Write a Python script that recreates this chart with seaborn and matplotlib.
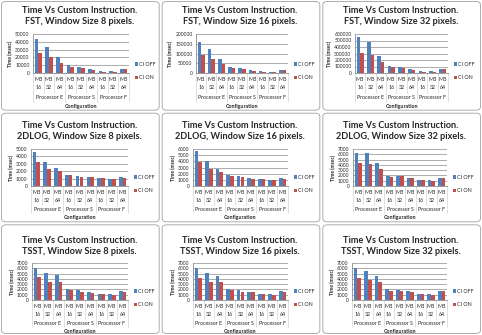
import matplotlib
matplotlib.use("Agg")
from matplotlib import pyplot as plt
from matplotlib.patches import FancyBboxPatch
import numpy as np
import pandas as pd
import seaborn as sns

# ---- data ----
configs = ["E16", "E32", "E64", "S16", "S32", "S64", "F16", "F32", "F64"]
config_labels = ["MB\n16", "MB\n32", "MB\n64"] * 3
processors = ["Processor E", "Processor S", "Processor F"]
series_names = ["CI OFF", "CI ON"]

fst8_off = [44000, 33000, 20000, 10000, 8000, 5000, 2500, 2000, 5000]
fst8_on = [26000, 20000, 13000, 7500, 6500, 4000, 1500, 1500, 4500]
fst16_off = [160000, 122000, 70000, 33000, 27000, 16000, 8000, 6000, 16000]
fst16_on = [92000, 70000, 45000, 26000, 22000, 12000, 5000, 5000, 14000]
fst32_off = [560000, 470000, 260000, 110000, 100000, 60000, 30000, 30000, 65000]
fst32_on = [315000, 275000, 170000, 85000, 80000, 50000, 20000, 20000, 55000]
log8_off = [4600, 3300, 2400, 1550, 1350, 1150, 1100, 900, 1150]
log8_on = [3300, 2350, 2000, 1450, 1250, 1150, 1100, 900, 1100]
log16_off = [5600, 4000, 2800, 1850, 1550, 1250, 1100, 1000, 1250]
log16_on = [3900, 2800, 2250, 1650, 1400, 1200, 1100, 950, 1200]
log32_off = [6300, 6300, 4400, 1950, 1950, 1550, 1150, 1050, 1550]
log32_on = [4400, 4100, 3200, 1750, 1850, 1450, 1050, 950, 1550]
tsst8_off = [6000, 5200, 4700, 2000, 1800, 1600, 1200, 1100, 1700]
tsst8_on = [4300, 3500, 3400, 1800, 1600, 1400, 1100, 950, 1600]
tsst16_off = [6000, 5200, 4600, 2000, 1800, 1600, 1200, 1100, 1700]
tsst16_on = [4200, 3500, 3400, 1800, 1600, 1500, 1100, 950, 1550]
tsst32_off = [6000, 5400, 4600, 2000, 1850, 1700, 1200, 1100, 1700]
tsst32_on = [4200, 3700, 3500, 1700, 1700, 1500, 1100, 950, 1650]

titles = [
    "Time Vs Custom Instruction.\nFST, Window Size 8 pixels.",
    "Time Vs Custom Instruction.\nFST, Window Size 16 pixels.",
    "Time Vs Custom Instruction.\nFST, Window Size 32 pixels.",
    "Time Vs Custom Instruction.\n2DLOG, Window Size 8 pixels.",
    "Time Vs Custom Instruction.\n2DLOG, Window Size 16 pixels.",
    "Time Vs Custom Instruction.\n2DLOG, Window Size 32 pixels.",
    "Time Vs Custom Instruction.\nTSST, Window Size 8 pixels.",
    "Time Vs Custom Instruction.\nTSST, Window Size 16 pixels.",
    "Time Vs Custom Instruction.\nTSST, Window Size 32 pixels.",
]
off_series = [fst8_off, fst16_off, fst32_off, log8_off, log16_off, log32_off,
              tsst8_off, tsst16_off, tsst32_off]
on_series = [fst8_on, fst16_on, fst32_on, log8_on, log16_on, log32_on,
             tsst8_on, tsst16_on, tsst32_on]
y_max = [50000, 200000, 600000, 5000, 6000, 7000, 7000, 7000, 7000]
y_step = [10000, 50000, 100000, 1000, 1000, 1000, 1000, 1000, 1000]

# ---- layout (pixels) ----
W, H = 482, 335
axes_px = [  # left, right, top, bottom
    (33, 129, 34, 73), (196, 288, 34, 73), (355, 448, 34, 73),
    (31, 128, 149, 186), (193, 288, 149, 186), (353, 447, 149, 186),
    (32, 128, 263, 300), (193, 288, 263, 300), (352, 447, 263, 300),
]
title_y = [6, 121, 236]
blue, red = "#4F81BD", "#C0504D"
grid_c = "#8c8c8c"

sns.set_style("white")
plt.rcParams["font.family"] = ["Lato", "DejaVu Sans"]

fig = plt.figure(figsize=(W / 100, H / 100), dpi=100)

# chart-area frames
cell_w, cell_h = W / 3, H / 3
for r in range(3):
    for c in range(3):
        box = FancyBboxPatch(
            ((c * cell_w + 1.5) / W, 1 - (r * cell_h + cell_h - 1.5) / H),
            (cell_w - 3) / W, (cell_h - 3) / H,
            boxstyle="round,pad=0,rounding_size=0.01",
            transform=fig.transFigure, fill=False, ec="#a0a0a0", lw=0.6,
        )
        fig.add_artist(box)

for i in range(9):
    l, rgt, t, b = axes_px[i]
    ax = fig.add_axes([l / W, 1 - b / H, (rgt - l) / W, (b - t) / H])
    df = pd.DataFrame({
        "config": configs * 2,
        "series": [series_names[0]] * 9 + [series_names[1]] * 9,
        "time": off_series[i] + on_series[i],
    })
    sns.barplot(data=df, x="config", y="time", hue="series", order=configs,
                hue_order=series_names, palette=[blue, red], width=0.7,
                saturation=1, linewidth=0, ax=ax)
    ax.set_ylim(0, y_max[i])
    ax.set_yticks(np.arange(0, y_max[i] + 1, y_step[i]))
    ax.ticklabel_format(style="plain", axis="y")
    ax.yaxis.grid(True, color=grid_c, lw=0.5)
    ax.set_axisbelow(True)
    ax.set_xlim(-0.5, 8.5)
    ax.set_xticks(range(9))
    ax.set_xticklabels(config_labels, fontsize=3.8, linespacing=1.75)
    ax.tick_params(axis="x", length=0, pad=3)
    ax.tick_params(axis="y", labelsize=3.6, length=1.5, width=0.5,
                   color=grid_c, pad=1)
    for s in ["top", "right"]:
        ax.spines[s].set_visible(False)
    for s in ["left", "bottom"]:
        ax.spines[s].set_color(grid_c)
        ax.spines[s].set_linewidth(0.6)
    ax.set_xlabel("")
    ax.set_ylabel("Time (msec)", fontsize=3.6, fontweight="bold", labelpad=1.5)

    # multi-level category axis separators
    tr = ax.get_xaxis_transform()
    for k in range(10):
        x = k - 0.5
        depth = -0.74 if k % 3 == 0 else -0.5
        ax.plot([x, x], [0, depth], transform=tr, color="#c8c8c8", lw=0.4,
                clip_on=False)
    for g, name in enumerate(processors):
        ax.text(g * 3 + 1, -0.63, name, transform=tr, ha="center",
                va="center", fontsize=3.8)
    ax.text(0.5, -0.85, "Configuration", transform=ax.transAxes,
            ha="center", va="center", fontsize=3.8, fontweight="bold")

    handles, labels = ax.get_legend_handles_labels()
    ax.legend(handles, labels, loc="center left", bbox_to_anchor=(1.04, 0.05),
              frameon=False, fontsize=3.8, handlelength=0.55,
              handleheight=0.55, handletextpad=0.3, labelspacing=1.6,
              borderaxespad=0)

    # chart title
    r, c = divmod(i, 3)
    fig.text((c * cell_w + cell_w / 2 - 1) / W, 1 - title_y[r] / H,
             titles[i], ha="center", va="top", fontsize=6.6,
             fontweight="bold", linespacing=1.25)

fig.savefig("out.png", dpi=100, facecolor="white")
